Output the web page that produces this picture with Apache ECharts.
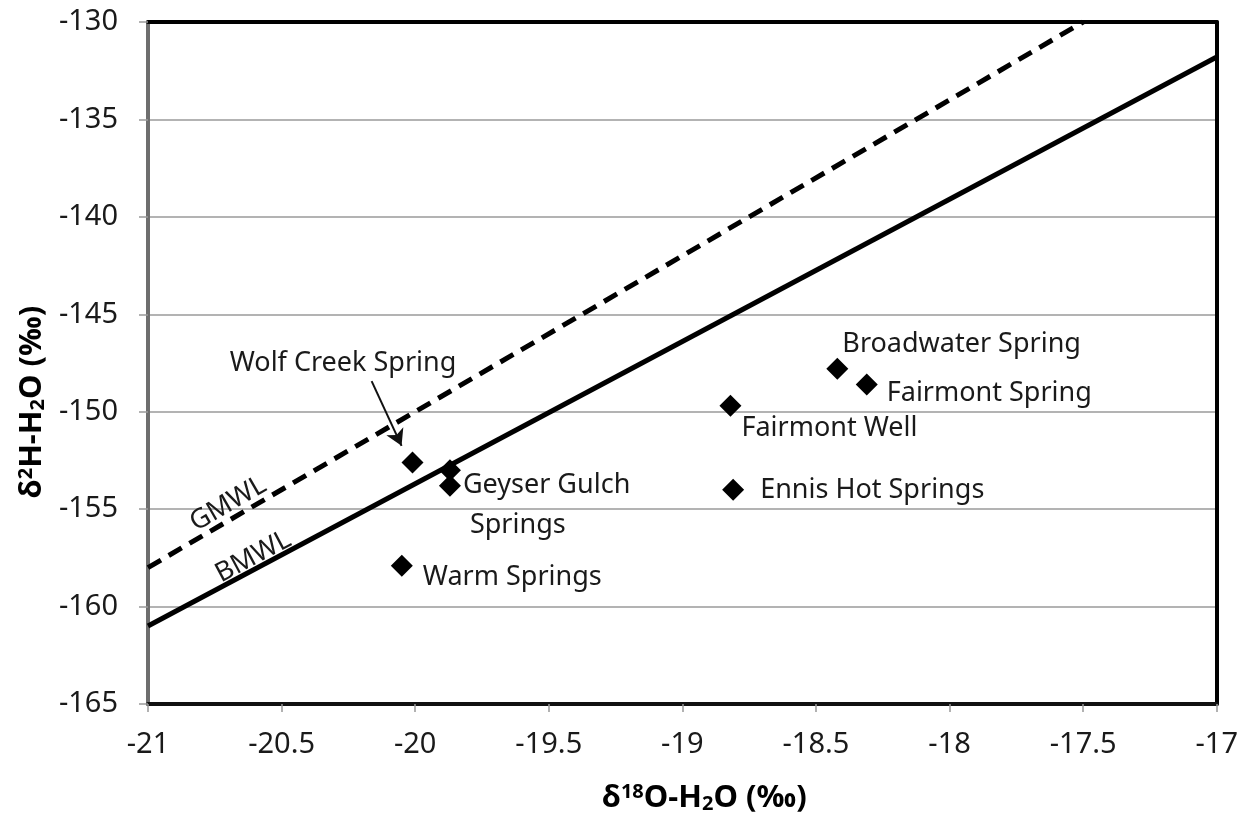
<!DOCTYPE html>
<html>
<head>
<meta charset="utf-8">
<script src="https://cdn.jsdelivr.net/npm/echarts@6/dist/echarts.min.js"></script>
<style>html,body{margin:0;padding:0;background:#fff;}#c{width:1241px;height:819px;}</style>
</head>
<body>
<div id="c"></div>
<script>
// ---- data ----
const siteNames = ['Wolf Creek Spring','Geyser Gulch Springs','Geyser Gulch Springs','Warm Springs','Fairmont Well','Ennis Hot Springs','Broadwater Spring','Fairmont Spring'];
const d18O = [-20.01, -19.87, -19.87, -20.05, -18.82, -18.81, -18.42, -18.31];
const d2H  = [-152.6, -153.0, -153.8, -157.9, -149.7, -154.0, -147.8, -148.6];
const siteLabels = ['', '', 'Geyser Gulch\n Springs', 'Warm Springs', 'Fairmont Well', 'Ennis Hot Springs', 'Broadwater Spring', 'Fairmont Spring'];

const gmwlX = [-21, -17.5];
const gmwlY = [-158, -130];
const bmwlX = [-21, -17];
const bmwlY = [-161.0, -131.8];

const annotText = ['GMWL', 'BMWL', 'Wolf Creek Spring'];
const annotX = [-20.70, -20.606, -20.27];
const annotY = [-154.73, -157.45, -147.5];

const arrowStart = [-20.163, -148.43];
const arrowEnd = [-20.051, -151.75];

const xTicks = [-21, -20.5, -20, -19.5, -19, -18.5, -18, -17.5, -17];
const yTicks = [-165, -160, -155, -150, -145, -140, -135, -130];

// ---- styles (not data) ----
const FONT = 'Noto Sans';
const TXT = '#1a1a1a';
const labelOffsets = [null, null, [-3, 20], [5, 12], [-5, 22], [11, 1], [-11, -25], [4, 9]];
const annotRotate = [30, 28, 0];

const titleRich = {
  a: { fontFamily: FONT, fontSize: 31, fontWeight: 'bold', color: '#000' },
  sup: { fontFamily: FONT, fontSize: 20, fontWeight: 'bold', color: '#000', verticalAlign: 'top', padding: [0,0,12,0] },
  sub: { fontFamily: FONT, fontSize: 20, fontWeight: 'bold', color: '#000', verticalAlign: 'bottom', padding: [12,0,0,0] }
};

const chart = echarts.init(document.getElementById('c'));
const pts = d18O.map((x, i) => {
  const item = { value: [x, d2H[i]], name: siteNames[i] };
  if (siteLabels[i]) {
    item.label = { show: true, position: 'right', distance: 5, offset: labelOffsets[i], formatter: siteLabels[i], lineHeight: 40 };
  }
  return item;
});

const option = {
  animation: false,
  backgroundColor: '#fff',
  grid: { left: 148, right: 24, top: 22, bottom: 111 },
  xAxis: [{
    type: 'value', min: -21, max: -17, interval: 0.5,
    name: '{a|δ}{sup|18}{a|O-H}{sub|2}{a|O (‰)}',
    nameLocation: 'middle', nameGap: 78,
    nameTextStyle: { rich: titleRich, padding: [0, 0, 0, 44] },
    axisLine: { show: true, onZero: false, lineStyle: { color: '#111', width: 4 } },
    axisTick: { show: true, inside: false, length: 8, lineStyle: { color: '#999', width: 1.5 } },
    axisLabel: { fontFamily: FONT, fontSize: 29, color: TXT, margin: 26, formatter: v => String(v) },
    splitLine: { show: false }
  }, {
    type: 'value', min: -21, max: -17, interval: 0.5, position: 'top',
    axisLine: { show: true, onZero: false, lineStyle: { color: '#000', width: 4 } },
    axisTick: { show: false }, axisLabel: { show: false }, splitLine: { show: false }
  }],
  yAxis: [{
    type: 'value', min: -165, max: -130, interval: 5,
    name: '{a|δ}{sup|2}{a|H-H}{sub|2}{a|O (‰)}',
    nameLocation: 'middle', nameGap: 100, nameRotate: 90,
    nameTextStyle: { rich: titleRich, padding: [0, 78, 0, 0] },
    axisLine: { show: true, onZero: false, lineStyle: { color: '#6e6e6e', width: 4 } },
    axisTick: { show: true, inside: false, length: 9, lineStyle: { color: '#999', width: 1.5 } },
    axisLabel: { fontFamily: FONT, fontSize: 29, color: TXT, margin: 30, formatter: v => String(v) },
    splitLine: { show: true, lineStyle: { color: '#9a9a9a', width: 1.5 } }
  }, {
    type: 'value', min: -165, max: -130, interval: 5, position: 'right',
    axisLine: { show: true, onZero: false, lineStyle: { color: '#000', width: 4 } },
    axisTick: { show: false }, axisLabel: { show: false }, splitLine: { show: false }
  }],
  series: [
    {
      name: 'GMWL', type: 'line', data: gmwlX.map((x, i) => [x, gmwlY[i]]),
      showSymbol: false, symbol: 'none', silent: true,
      lineStyle: { color: '#000', width: 5, type: [15, 9], opacity: 1 }, z: 2
    },
    {
      name: 'BMWL', type: 'line', data: bmwlX.map((x, i) => [x, bmwlY[i]]),
      showSymbol: false, symbol: 'none', silent: true,
      lineStyle: { color: '#000', width: 5, opacity: 1 }, z: 2,
      markLine: {
        silent: true, symbol: ['none', 'arrow'], symbolSize: [14, 16],
        lineStyle: { color: '#111', width: 2, type: 'solid', opacity: 1 },
        label: { show: false },
        data: [[{ coord: arrowStart }, { coord: arrowEnd }]]
      }
    },
    {
      name: 'sites', type: 'scatter', symbol: 'diamond', symbolSize: 22,
      itemStyle: { color: '#000', opacity: 1 },
      label: { show: false, fontFamily: FONT, fontSize: 27, color: TXT, align: 'left', textBorderWidth: 0 },
      data: pts, z: 4
    },
    {
      name: 'annot', type: 'scatter', symbolSize: 0, silent: true,
      itemStyle: { opacity: 1 },
      data: annotText.map((t, i) => ({
        value: [annotX[i], annotY[i]],
        label: { show: true, position: 'inside', formatter: t, rotate: annotRotate[i], fontFamily: FONT, fontSize: 27, color: TXT, textBorderWidth: 0 }
      })),
      z: 5
    }
  ]
};
chart.setOption(option);
</script>
</body>
</html>
